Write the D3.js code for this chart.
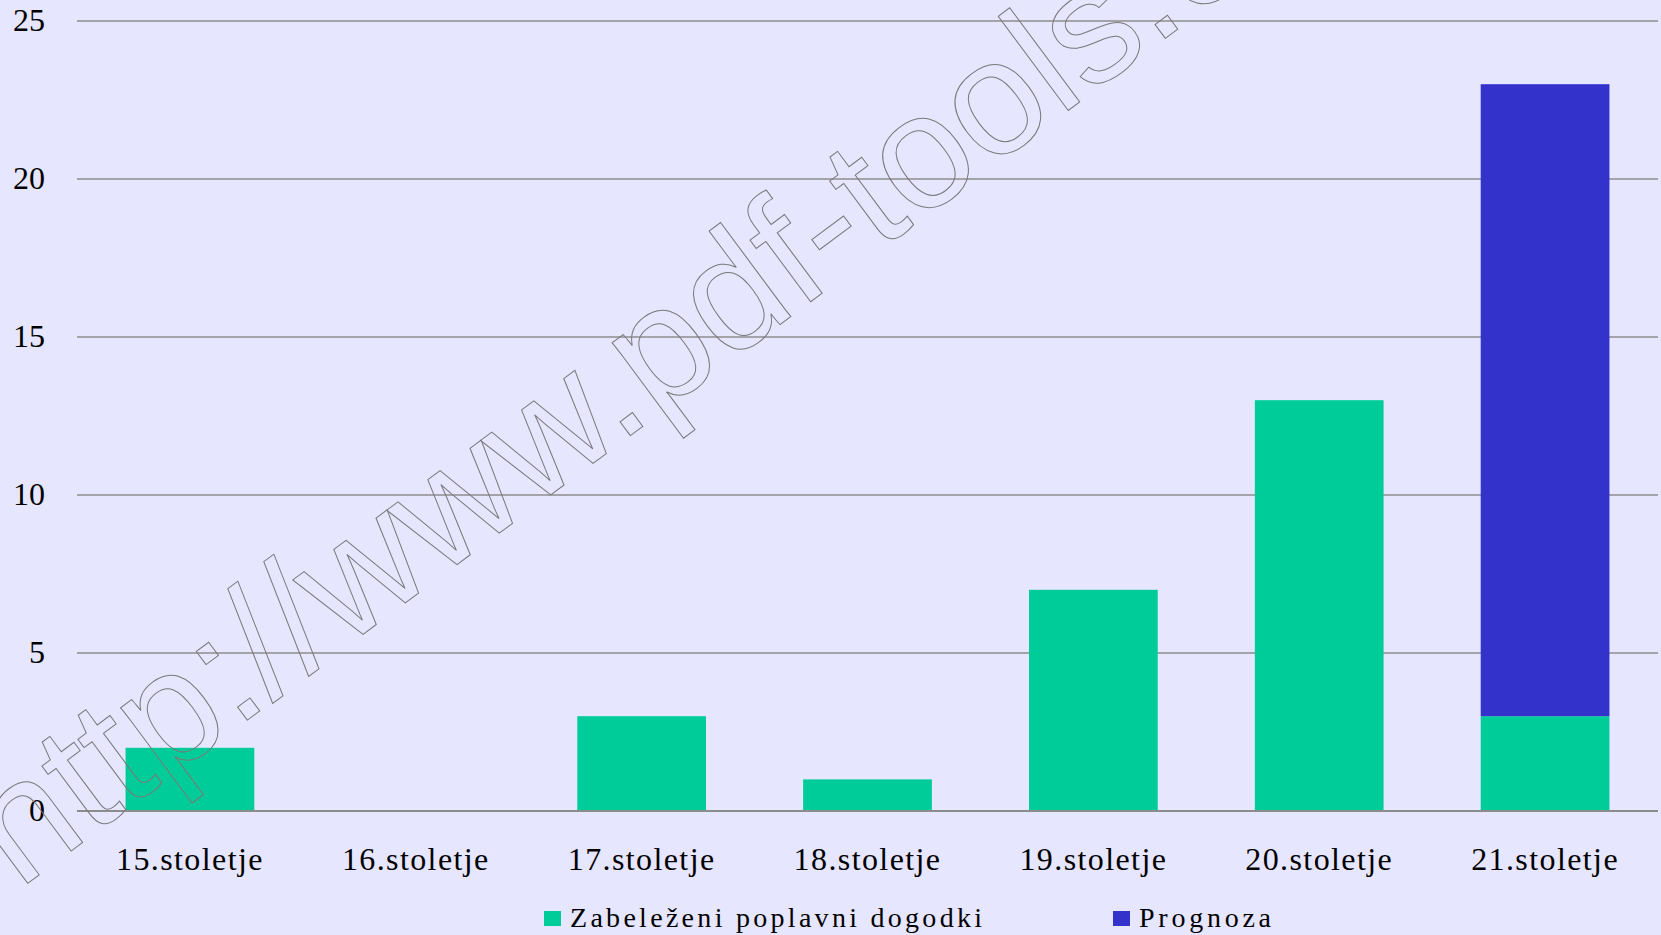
<!DOCTYPE html>
<html>
<head>
<meta charset="utf-8">
<script src="https://cdn.jsdelivr.net/npm/d3@7"></script>
<style>
  html, body { margin: 0; padding: 0; background: #e6e6ff; }
  svg { display: block; }
  .tick text { font-family: "Liberation Serif", "Times New Roman", serif; fill: #000; }
</style>
</head>
<body>
<div id="chart"></div>
<script>
// data
var categories = ["15.stoletje", "16.stoletje", "17.stoletje", "18.stoletje", "19.stoletje", "20.stoletje", "21.stoletje"];
var recorded = [2, 0, 3, 1, 7, 13, 3];      // Zabeleženi poplavni dogodki
var forecast = [0, 0, 0, 0, 0, 0, 20];      // Prognoza
var seriesNames = ["Zabeleženi poplavni dogodki", "Prognoza"];
var seriesColors = ["#00cc99", "#3333cc"];
var yTicks = [0, 5, 10, 15, 20, 25];

// chart geometry
var outerWidth = 1661,
    outerHeight = 935,
    plot = {left: 77, right: 1658, top: 21, bottom: 811};

var svg = d3.select("#chart").append("svg")
    .attr("width", outerWidth)
    .attr("height", outerHeight);

svg.append("rect")
    .attr("width", outerWidth)
    .attr("height", outerHeight)
    .attr("fill", "#e6e6ff");

var x = d3.scaleBand()
    .domain(categories)
    .range([plot.left, plot.right])
    .paddingInner(0.43)
    .paddingOuter(0.215);

var y = d3.scaleLinear()
    .domain([0, 25])
    .range([plot.bottom, plot.top]);

// gridlines
svg.append("g")
    .selectAll("line")
    .data(yTicks)
    .enter().append("line")
    .attr("x1", plot.left)
    .attr("x2", plot.right)
    .attr("y1", function (d) { return y(d); })
    .attr("y2", function (d) { return y(d); })
    .attr("stroke", "#8c8c8c")
    .attr("stroke-width", 1.5);

// stacked bars
var rows = categories.map(function (c, i) {
    return {cat: c, recorded: recorded[i], forecast: forecast[i]};
});
var stack = d3.stack().keys(["recorded", "forecast"]);
var layers = stack(rows);

svg.append("g")
    .selectAll("g")
    .data(layers)
    .enter().append("g")
    .attr("fill", function (d, i) { return seriesColors[i]; })
    .selectAll("rect")
    .data(function (d) { return d; })
    .enter().append("rect")
    .attr("x", function (d) { return x(d.data.cat); })
    .attr("width", x.bandwidth())
    .attr("y", function (d) { return y(d[1]); })
    .attr("height", function (d) { return y(d[0]) - y(d[1]); });

// baseline
svg.append("line")
    .attr("x1", plot.left)
    .attr("x2", plot.right)
    .attr("y1", y(0))
    .attr("y2", y(0))
    .attr("stroke", "#8c8c8c")
    .attr("stroke-width", 2);

// y axis labels
var yAxis = d3.axisLeft(y).tickValues(yTicks).tickSize(0).tickPadding(32);
svg.append("g")
    .attr("transform", "translate(" + plot.left + ",0)")
    .call(yAxis)
    .call(function (g) { g.select(".domain").remove(); })
    .selectAll("text")
    .style("font-size", "32px")
    .attr("dy", "0.3em");

// x axis labels
var xAxis = d3.axisBottom(x).tickSize(0).tickPadding(36);
svg.append("g")
    .attr("transform", "translate(0," + plot.bottom + ")")
    .call(xAxis)
    .call(function (g) { g.select(".domain").remove(); })
    .selectAll("text")
    .style("font-size", "32px")
    .style("letter-spacing", "1.4px");

// legend
var legendItems = [
    {name: seriesNames[0], color: seriesColors[0], x: 544, len: 412},
    {name: seriesNames[1], color: seriesColors[1], x: 1113, len: 132}
];
var legend = svg.append("g")
    .selectAll("g")
    .data(legendItems)
    .enter().append("g")
    .attr("transform", function (d) { return "translate(" + d.x + ",927)"; });
legend.append("rect")
    .attr("x", 0)
    .attr("y", -16)
    .attr("width", 17)
    .attr("height", 15)
    .attr("fill", function (d) { return d.color; });
legend.append("text")
    .attr("x", 26)
    .attr("y", 0)
    .attr("textLength", function (d) { return d.len; })
    .style("font-family", "'Liberation Serif', 'Times New Roman', serif")
    .style("font-size", "28px")
    .text(function (d) { return d.name; });

// watermark
svg.append("text")
    .attr("transform", "translate(727,364) rotate(-36.6)")
    .attr("text-anchor", "middle")
    .style("font-family", "'Liberation Sans', Arial, sans-serif")
    .style("font-size", "162px")
    .attr("fill", "none")
    .attr("stroke", "#7a7a7a")
    .attr("stroke-width", 1)
    .text("http://www.pdf-tools.com");
</script>
</body>
</html>
